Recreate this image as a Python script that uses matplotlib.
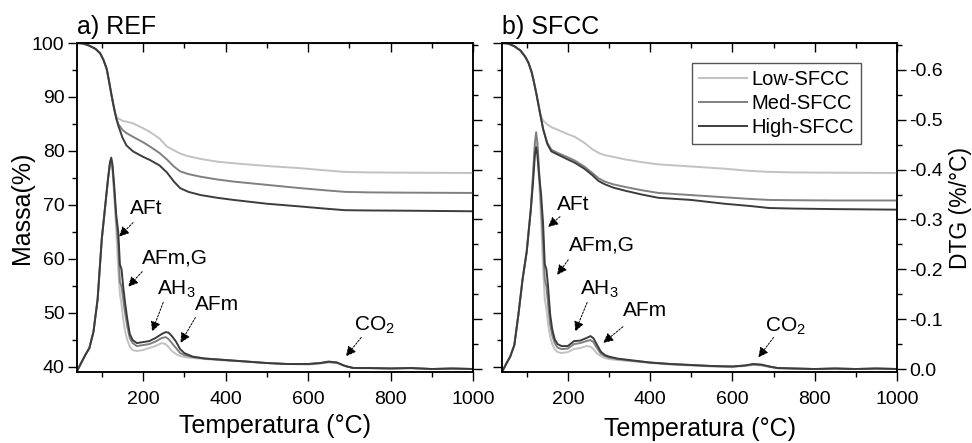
import matplotlib
matplotlib.use("Agg")
import matplotlib.pyplot as plt
from matplotlib.ticker import MultipleLocator, FormatStrFormatter

plt.rcParams['font.family'] = ['Liberation Sans', 'DejaVu Sans']
plt.rcParams['axes.unicode_minus'] = False
plt.rcParams['mathtext.fontset'] = 'custom'
plt.rcParams['mathtext.rm'] = 'Liberation Sans'

# ---------------- data ----------------
series_names = ["Low-SFCC", "Med-SFCC", "High-SFCC"]
panel_titles = ["a) REF", "b) SFCC"]

# TG (mass %) temperature grid
T_tg = [40, 55, 70, 85, 96, 104, 112, 116, 120, 124, 128, 132, 136, 140, 150, 160,
        176, 200, 217, 240, 258, 275, 290, 310, 340, 380, 420, 500, 580, 640, 690,
        750, 850, 1000]

tg_ref_low = [100, 99.9, 99.5, 98.9, 98.1, 96.9, 95.2, 93.6, 91.9, 90.2, 88.6, 87.2,
              86.3, 86.0, 85.6, 85.4, 85.1, 84.2, 83.5, 82.3, 80.8, 80.1, 79.5, 79.0,
              78.5, 78.0, 77.7, 77.2, 76.8, 76.4, 76.1, 76.0, 75.95, 75.9]
tg_ref_med = [100, 99.9, 99.5, 98.9, 98.1, 96.9, 95.2, 93.6, 91.9, 90.2, 88.6, 87.1,
              85.9, 85.0, 83.9, 83.3, 82.6, 81.6, 80.8, 79.6, 78.4, 77.1, 76.2, 75.7,
              75.2, 74.7, 74.3, 73.7, 73.1, 72.7, 72.4, 72.3, 72.25, 72.2]
tg_ref_high = [100, 99.9, 99.5, 98.9, 98.1, 96.9, 95.2, 93.6, 91.9, 90.2, 88.6, 87.1,
               85.8, 84.7, 82.5, 81.0, 79.9, 78.9, 78.3, 77.3, 76.0, 74.3, 73.1, 72.4,
               71.8, 71.3, 70.9, 70.2, 69.7, 69.3, 69.0, 68.95, 68.9, 68.8]

tg_sfcc_low = [100, 99.9, 99.4, 98.6, 97.5, 96.4, 94.6, 93.3, 91.9, 90.4, 88.8, 87.0,
               86.2, 85.6, 84.9, 84.4, 83.9, 83.1, 82.6, 81.5, 80.4, 79.6, 79.2, 78.9,
               78.4, 77.9, 77.5, 77.1, 76.7, 76.3, 76.1, 76.0, 75.95, 75.9]
tg_sfcc_med = [100, 99.9, 99.4, 98.6, 97.5, 96.4, 94.6, 93.3, 91.9, 90.4, 88.8, 87.2,
               85.6, 84.1, 81.5, 80.2, 79.6, 78.8, 78.2, 77.1, 76.0, 74.9, 74.3, 73.8,
               73.3, 72.7, 72.2, 71.8, 71.4, 71.1, 70.9, 70.85, 70.8, 70.8]
tg_sfcc_high = [100, 99.9, 99.4, 98.6, 97.5, 96.4, 94.6, 93.3, 91.9, 90.4, 88.8, 87.2,
                85.6, 84.0, 81.3, 79.9, 79.3, 78.4, 77.8, 76.7, 75.6, 74.4, 73.8, 73.2,
                72.6, 71.9, 71.3, 70.9, 70.2, 69.8, 69.4, 69.3, 69.2, 69.1]

# DTG (%/°C) temperature grid
T_dtg = [40, 50, 60, 70, 80, 90, 100, 110, 115, 120, 123, 126, 130, 135, 140, 144,
         148, 152, 157, 162, 168, 175, 185, 200, 215, 230, 245, 255, 262, 270, 280,
         290, 300, 320, 350, 400, 450, 500, 550, 600, 630, 650, 670, 690, 710, 750,
         800, 850, 900, 950, 1000]

dtg_ref_low = [0.004, -0.012, -0.028, -0.042, -0.075, -0.14, -0.26, -0.34, -0.38, -0.41,
               -0.415, -0.40, -0.35, -0.28, -0.20, -0.15, -0.13, -0.10, -0.075, -0.058,
               -0.045, -0.038, -0.036, -0.038, -0.042, -0.046, -0.052, -0.050, -0.044,
               -0.036, -0.030, -0.026, -0.024, -0.022, -0.020, -0.017, -0.015, -0.012,
               -0.010, -0.009, -0.011, -0.013, -0.012, -0.006, -0.002, -0.001, -0.002,
               -0.001, 0.000, -0.001, 0.000]
dtg_ref_med = [0.004, -0.012, -0.028, -0.042, -0.075, -0.14, -0.26, -0.34, -0.38, -0.413,
               -0.42, -0.405, -0.36, -0.30, -0.25, -0.175, -0.165, -0.14, -0.11, -0.085,
               -0.062, -0.052, -0.046, -0.048, -0.050, -0.055, -0.062, -0.064, -0.060,
               -0.052, -0.042, -0.032, -0.028, -0.024, -0.021, -0.018, -0.015, -0.012,
               -0.010, -0.010, -0.012, -0.014, -0.013, -0.006, -0.002, -0.002, -0.001,
               -0.002, 0.000, -0.001, 0.000]
dtg_ref_high = [0.004, -0.012, -0.028, -0.042, -0.075, -0.14, -0.26, -0.34, -0.38, -0.415,
                -0.424, -0.41, -0.37, -0.31, -0.275, -0.21, -0.20, -0.165, -0.13, -0.10,
                -0.07, -0.058, -0.052, -0.054, -0.056, -0.062, -0.070, -0.074, -0.073,
                -0.066, -0.055, -0.040, -0.032, -0.025, -0.021, -0.018, -0.015, -0.012,
                -0.010, -0.010, -0.012, -0.015, -0.013, -0.006, -0.002, -0.002, -0.001,
                -0.002, 0.000, -0.001, 0.000]

dtg_sfcc_low = [0.006, -0.010, -0.025, -0.048, -0.11, -0.18, -0.235, -0.32, -0.38, -0.445,
                -0.46, -0.44, -0.38, -0.30, -0.20, -0.14, -0.12, -0.09, -0.065, -0.050,
                -0.040, -0.034, -0.032, -0.034, -0.040, -0.042, -0.046, -0.045, -0.040,
                -0.032, -0.026, -0.022, -0.020, -0.018, -0.016, -0.012, -0.009, -0.007,
                -0.005, -0.004, -0.006, -0.008, -0.007, -0.004, -0.001, -0.001, 0.000,
                -0.001, 0.000, -0.001, 0.000]
dtg_sfcc_med = [0.006, -0.010, -0.025, -0.048, -0.11, -0.18, -0.235, -0.32, -0.385, -0.455,
                -0.475, -0.455, -0.40, -0.33, -0.25, -0.18, -0.165, -0.13, -0.09, -0.068,
                -0.052, -0.043, -0.040, -0.041, -0.050, -0.052, -0.056, -0.058, -0.054,
                -0.043, -0.031, -0.026, -0.023, -0.020, -0.017, -0.013, -0.010, -0.008,
                -0.006, -0.005, -0.007, -0.009, -0.008, -0.005, -0.002, -0.001, 0.000,
                -0.001, 0.000, -0.001, 0.000]
dtg_sfcc_high = [0.006, -0.010, -0.025, -0.048, -0.11, -0.18, -0.235, -0.32, -0.37, -0.43,
                 -0.445, -0.43, -0.39, -0.35, -0.29, -0.21, -0.20, -0.165, -0.11, -0.08,
                 -0.06, -0.05, -0.046, -0.046, -0.056, -0.057, -0.062, -0.066, -0.062,
                 -0.050, -0.035, -0.028, -0.025, -0.021, -0.018, -0.013, -0.010, -0.008,
                 -0.006, -0.005, -0.007, -0.010, -0.009, -0.005, -0.002, -0.001, 0.000,
                 -0.001, 0.000, -0.001, 0.000]

tg_data = [[tg_ref_low, tg_ref_med, tg_ref_high], [tg_sfcc_low, tg_sfcc_med, tg_sfcc_high]]
dtg_data = [[dtg_ref_low, dtg_ref_med, dtg_ref_high], [dtg_sfcc_low, dtg_sfcc_med, dtg_sfcc_high]]

peak_labels = ["AFt", "AFm,G", "AH$_3$", "AFm", "CO$_2$"]
# (text x, text y, arrow tail x, tail y, head x, head y) in (T, mass) coords
ann_ref = [(169, 69.4, 176, 66.7, 142, 64.1),
           (198, 60.2, 198, 57.6, 164, 54.8),
           (235, 54.3, 249, 51.9, 222, 46.5),
           (327, 51.5, 327, 49.1, 291, 44.4),
           (712, 47.6, 729, 45.4, 692, 41.9)]
ann_sfcc = [(174, 70.0, 181, 67.8, 152, 65.9),
            (203, 62.6, 201, 59.8, 174, 57.0),
            (230, 54.3, 247, 51.9, 218, 46.5),
            (334, 50.4, 334, 47.4, 286, 44.4),
            (680, 47.4, 700, 45.4, 663, 41.7)]
annotations = [ann_ref, ann_sfcc]

# ---------------- style ----------------
colors = ['#c2c2c2', '#808080', '#3c3c3c']
W, H = 972, 443
fig = plt.figure(figsize=(W / 100, H / 100), dpi=100)
fig.patch.set_facecolor('white')

ax_boxes = [(77, 43, 473, 372), (502, 43, 897, 372)]
xlabel_y = [-0.185, -0.196]

for p in range(2):
    x0, y0, x1, y1 = ax_boxes[p]
    ax = fig.add_axes([x0 / W, 1 - y1 / H, (x1 - x0) / W, (y1 - y0) / H])
    ax2 = ax.twinx()
    ax.set_zorder(ax2.get_zorder() + 1)
    ax.patch.set_visible(False)

    for i in range(3):
        ax2.plot(T_dtg, dtg_data[p][i], color=colors[i], lw=1.4)
        ax.plot(T_tg, tg_data[p][i], color=colors[i], lw=1.4, label=series_names[i])

    ax.set_xlim(40, 1000)
    ax.set_ylim(39, 100)
    ax2.set_ylim(0.006, -0.654)

    ax.xaxis.set_major_locator(MultipleLocator(200))
    ax.xaxis.set_minor_locator(MultipleLocator(100))
    ax.yaxis.set_major_locator(MultipleLocator(10))
    ax.yaxis.set_minor_locator(MultipleLocator(5))
    ax2.yaxis.set_major_locator(MultipleLocator(0.1))
    ax2.yaxis.set_minor_locator(MultipleLocator(0.05))
    ax2.yaxis.set_major_formatter(FormatStrFormatter('%.1f'))

    ax.tick_params(axis='both', which='major', direction='out', length=6.5, width=1.0,
                   labelsize=14, top=False)
    ax.tick_params(axis='x', which='major', pad=7)
    ax.tick_params(axis='y', which='major', pad=2.5)
    ax.tick_params(axis='both', which='minor', direction='out', length=3.5, width=1.0,
                   top=False)
    ax2.tick_params(axis='y', which='major', direction='out', length=6.5, width=1.0,
                    labelsize=14, pad=2.5)
    ax2.tick_params(axis='y', which='minor', direction='out', length=3.5, width=1.0)

    secx = ax.secondary_xaxis('top')
    secx.xaxis.set_major_locator(MultipleLocator(200))
    secx.xaxis.set_minor_locator(MultipleLocator(100))
    secx.tick_params(axis='x', which='major', direction='in', length=6.5, width=1.0,
                     labeltop=False)
    secx.tick_params(axis='x', which='minor', direction='in', length=3.5, width=1.0)

    for a in (ax, ax2):
        for s in a.spines.values():
            s.set_linewidth(1.1)

    ax.set_xlabel("Temperatura (°C)", fontsize=18)
    ax.xaxis.set_label_coords(0.5, xlabel_y[p])
    ax.xaxis.label.set_va('baseline')
    if p == 0:
        ax.set_ylabel("Massa(%)", fontsize=18)
        ax.yaxis.set_label_coords(-0.139, 0.5)
        ax.yaxis.label.set_va('center')
        ax2.tick_params(axis='y', labelright=False)
    else:
        ax.tick_params(axis='y', labelleft=False)
        ax2.set_ylabel("DTG (%/°C)", fontsize=16.5)
        ax2.yaxis.set_label_coords(1.16, 0.5)
        ax2.yaxis.label.set_va('center')
        ax.legend(loc='upper right', bbox_to_anchor=(0.909, 0.939), borderaxespad=0,
                  fontsize=14.5, frameon=True, fancybox=False, edgecolor='#555555',
                  framealpha=1, handlelength=2.4, handletextpad=0.2,
                  labelspacing=0.25, borderpad=0.35)

    ax.text(0.0, 1.012, panel_titles[p], transform=ax.transAxes, fontsize=18,
            ha='left', va='bottom')

    for lab, (tx, ty, ax_t, ay_t, hx, hy) in zip(peak_labels, annotations[p]):
        ax.text(tx, ty, lab, fontsize=15, ha='left', va='center')
        ax.annotate('', xy=(hx, hy), xytext=(ax_t, ay_t),
                    arrowprops=dict(arrowstyle='-|>', color='k', lw=0.7,
                                    linestyle=(0, (2, 1.5)), mutation_scale=15,
                                    shrinkA=0, shrinkB=0))

fig.savefig("out.png", dpi=100, facecolor='white')
